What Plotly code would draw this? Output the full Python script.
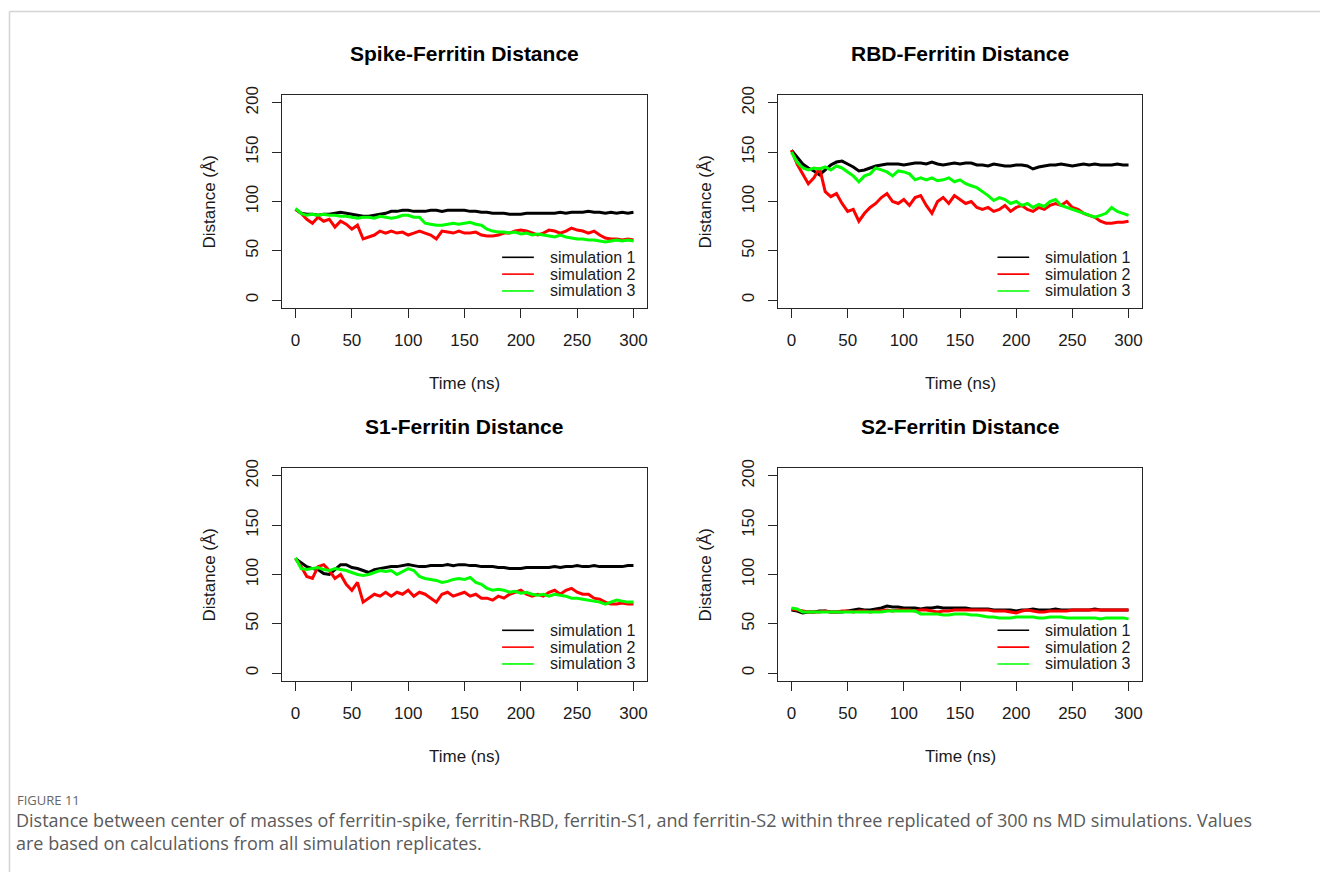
import plotly.graph_objects as go

# ---------------- data ----------------
TIME_NS = [0, 5, 10, 15, 20, 25, 30, 35, 40, 45,
           50, 55, 60, 65, 70, 75, 80, 85, 90, 95,
           100, 105, 110, 115, 120, 125, 130, 135, 140, 145,
           150, 155, 160, 165, 170, 175, 180, 185, 190, 195,
           200, 205, 210, 215, 220, 225, 230, 235, 240, 245,
           250, 255, 260, 265, 270, 275, 280, 285, 290, 295,
           300]

SPIKE_SIM1 = [92, 88, 87, 87, 86, 87, 87, 88, 89, 88,
              87, 86, 85, 85, 86, 87, 88, 90, 90, 91,
              91, 90, 90, 90, 91, 91, 90, 91, 91, 91,
              91, 90, 90, 89, 89, 88, 88, 88, 87, 87,
              87, 88, 88, 88, 88, 88, 88, 89, 88, 89,
              89, 89, 90, 89, 89, 88, 89, 88, 89, 88,
              89]
SPIKE_SIM2 = [92, 88, 82, 78, 84, 80, 82, 74, 80, 77,
              72, 76, 62, 64, 66, 70, 68, 70, 68, 69,
              66, 68, 70, 68, 66, 62, 70, 69, 68, 70,
              68, 68, 69, 66, 65, 65, 66, 68, 68, 70,
              71, 70, 68, 66, 68, 71, 70, 68, 70, 73,
              71, 70, 68, 70, 66, 63, 62, 62, 61, 62,
              61]
SPIKE_SIM3 = [93, 88, 86, 87, 86, 87, 86, 86, 85, 85,
              84, 83, 84, 84, 83, 85, 84, 83, 84, 86,
              86, 84, 84, 78, 77, 76, 76, 77, 78, 77,
              78, 79, 77, 76, 72, 70, 69, 69, 68, 69,
              67, 68, 66, 67, 66, 65, 64, 66, 64, 63,
              62, 62, 61, 61, 60, 59, 60, 61, 60, 61,
              60]

RBD_SIM1 = [152, 145, 138, 134, 131, 127, 132, 137, 140, 141,
            138, 135, 131, 132, 134, 136, 137, 138, 138, 138,
            137, 138, 139, 139, 138, 140, 138, 137, 138, 139,
            138, 139, 139, 137, 137, 136, 138, 137, 136, 136,
            137, 137, 136, 133, 135, 136, 137, 137, 138, 137,
            136, 137, 138, 137, 138, 137, 137, 137, 138, 137,
            137]
RBD_SIM2 = [152, 138, 128, 118, 124, 134, 110, 105, 108, 98,
            90, 92, 80, 88, 94, 98, 104, 108, 100, 98,
            102, 96, 104, 106, 96, 88, 100, 104, 98, 106,
            102, 98, 100, 94, 92, 94, 90, 92, 96, 90,
            94, 96, 92, 90, 94, 92, 96, 98, 96, 100,
            94, 92, 88, 86, 84, 80, 78, 78, 79, 79,
            80]
RBD_SIM3 = [150, 140, 134, 132, 134, 133, 135, 132, 136, 134,
            130, 126, 120, 126, 128, 134, 132, 130, 126, 131,
            130, 128, 122, 124, 122, 124, 121, 122, 124, 120,
            122, 118, 116, 114, 110, 106, 101, 104, 102, 98,
            100, 96, 98, 94, 97, 95, 100, 102, 96, 94,
            92, 90, 88, 86, 84, 86, 88, 94, 90, 88,
            86]

S1_SIM1 = [116, 112, 108, 106, 105, 101, 100, 105, 110, 110,
           107, 106, 104, 102, 105, 106, 107, 108, 108, 109,
           110, 109, 108, 108, 109, 109, 109, 110, 109, 110,
           110, 109, 109, 108, 108, 108, 107, 107, 106, 106,
           106, 107, 107, 107, 107, 107, 108, 107, 108, 108,
           109, 108, 108, 109, 108, 108, 108, 108, 108, 109,
           109]
S1_SIM2 = [116, 108, 98, 96, 108, 110, 104, 96, 100, 90,
           84, 92, 72, 76, 80, 78, 82, 78, 82, 80,
           84, 78, 82, 80, 76, 72, 80, 82, 78, 80,
           82, 78, 80, 76, 76, 74, 78, 76, 80, 82,
           84, 80, 78, 80, 78, 82, 84, 80, 84, 86,
           82, 80, 80, 76, 75, 72, 70, 70, 71, 70,
           70]
S1_SIM3 = [117, 106, 105, 106, 107, 105, 104, 106, 105, 104,
           102, 100, 99, 100, 102, 104, 103, 104, 100, 103,
           106, 104, 98, 96, 95, 94, 92, 93, 95, 96,
           95, 97, 92, 90, 86, 84, 85, 84, 82, 83,
           81, 82, 80, 79, 80, 78, 80, 79, 78, 76,
           76, 75, 74, 73, 72, 70, 72, 74, 73, 72,
           72]

S2_SIM1 = [64, 63, 61, 62, 62, 63, 63, 62, 62, 62,
           63, 64, 65, 64, 64, 65, 66, 68, 67, 67,
           66, 66, 66, 65, 66, 66, 67, 66, 66, 66,
           66, 66, 65, 65, 65, 65, 64, 64, 64, 64,
           63, 64, 64, 65, 64, 64, 64, 65, 64, 64,
           64, 64, 64, 64, 65, 64, 64, 64, 64, 64,
           64]
S2_SIM2 = [65, 64, 63, 62, 62, 62, 63, 62, 62, 63,
           63, 62, 63, 63, 62, 63, 63, 64, 63, 64,
           64, 64, 63, 64, 64, 63, 62, 63, 63, 64,
           64, 64, 64, 64, 64, 64, 63, 63, 63, 62,
           61, 63, 64, 63, 62, 62, 63, 63, 63, 63,
           64, 64, 64, 64, 64, 64, 64, 64, 64, 64,
           64]
S2_SIM3 = [66, 65, 62, 62, 62, 62, 62, 62, 62, 62,
           62, 62, 62, 62, 62, 62, 62, 63, 63, 63,
           63, 63, 63, 60, 60, 60, 60, 59, 59, 60,
           60, 60, 59, 59, 58, 57, 57, 56, 56, 56,
           57, 57, 57, 57, 56, 56, 57, 57, 57, 56,
           56, 56, 56, 56, 56, 55, 56, 56, 56, 56,
           55]

PANEL_TITLES = ["Spike-Ferritin Distance", "RBD-Ferritin Distance",
                "S1-Ferritin Distance", "S2-Ferritin Distance"]
SERIES_NAMES = ["simulation 1", "simulation 2", "simulation 3"]
X_TICKS = [0, 50, 100, 150, 200, 250, 300]
Y_TICKS = [0, 50, 100, 150, 200]
X_LABEL = "Time (ns)"
Y_LABEL = "Distance (Å)"
CAPTION_HEAD = "FIGURE 11"
CAPTION_LINE1 = ("Distance between center of masses of ferritin-spike, ferritin-RBD, ferritin-S1, "
                 "and ferritin-S2 within three replicated of 300 ns MD simulations. Values")
CAPTION_LINE2 = "are based on calculations from all simulation replicates."

PANEL_DATA = [
    [SPIKE_SIM1, SPIKE_SIM2, SPIKE_SIM3],
    [RBD_SIM1, RBD_SIM2, RBD_SIM3],
    [S1_SIM1, S1_SIM2, S1_SIM3],
    [S2_SIM1, S2_SIM2, S2_SIM3],
]
for grp in PANEL_DATA:
    for s in grp:
        assert len(s) == len(TIME_NS), len(s)

# ---------------- layout ----------------
W, H = 1320, 872
COLORS = ["#000000", "#FF0000", "#00FF00"]
FONT = "Liberation Sans, Arial, sans-serif"
CAP_FONT = "Open Sans, sans-serif"
AX_COL = "#262626"
# panel frames in pixels: left, right, top, bottom
PANELS = [(282, 647, 95, 308), (778, 1142, 95, 308),
          (282, 647, 468, 681), (778, 1142, 468, 681)]
TITLE_Y = [53, 53, 426, 426]
XLAB_Y = [383, 383, 756, 756]
LEG_ROWS = [0.238, 0.159, 0.080]


def px(x):
    return x / W


def py(y):
    return 1 - y / H


fig = go.Figure()
annotations = []
shapes = []

for i, (series, (l, r, t, b)) in enumerate(zip(PANEL_DATA, PANELS)):
    sfx = "" if i == 0 else str(i + 1)
    for name, vals, col in zip(SERIES_NAMES, series, COLORS):
        fig.add_trace(go.Scatter(x=TIME_NS, y=vals, mode="lines", name=name,
                                 line=dict(color=col, width=3),
                                 xaxis="x" + sfx, yaxis="y" + sfx,
                                 showlegend=False, hoverinfo="skip"))
    fig.layout["xaxis" + sfx] = dict(
        domain=[px(l), px(r)], anchor="y" + sfx, range=[-12, 312], automargin=False,
        tickmode="array", tickvals=X_TICKS, ticks="outside", ticklen=9,
        tickwidth=1, tickcolor=AX_COL, showline=True, mirror=True,
        linecolor=AX_COL, linewidth=1.2, showgrid=False, zeroline=False,
        tickfont=dict(family=FONT, size=17, color="#1a1a1a"),
        ticklabelstandoff=7, fixedrange=True)
    fig.layout["yaxis" + sfx] = dict(
        domain=[py(b), py(t)], anchor="x" + sfx, range=[-8, 208], automargin=False,
        tickmode="array", tickvals=Y_TICKS, ticks="outside", ticklen=9,
        tickwidth=1, tickcolor=AX_COL, showline=True, mirror=True,
        linecolor=AX_COL, linewidth=1.2, showgrid=False, zeroline=False,
        tickangle=-90,
        tickfont=dict(family=FONT, size=17, color="#1a1a1a"),
        ticklabelstandoff=7, fixedrange=True)

    cx = (l + r) / 2
    annotations.append(dict(text="<b>" + PANEL_TITLES[i] + "</b>", x=px(cx), y=py(TITLE_Y[i]),
                            xref="paper", yref="paper", showarrow=False,
                            xanchor="center", yanchor="middle",
                            font=dict(family=FONT, size=21, color="#000000")))
    annotations.append(dict(text=X_LABEL, x=px(cx), y=py(XLAB_Y[i]),
                            xref="paper", yref="paper", showarrow=False,
                            xanchor="center", yanchor="middle",
                            font=dict(family=FONT, size=17, color="#1a1a1a")))
    annotations.append(dict(text=Y_LABEL, x=px(l - 73), y=py((t + b) / 2),
                            xref="paper", yref="paper", showarrow=False,
                            textangle=-90, xanchor="center", yanchor="middle",
                            font=dict(family=FONT, size=17, color="#1a1a1a")))
    # legend (R style, no box)
    for name, col, ry in zip(SERIES_NAMES, COLORS, LEG_ROWS):
        shapes.append(dict(type="line", xref="x" + sfx + " domain", yref="y" + sfx + " domain",
                           x0=0.603, x1=0.690, y0=ry, y1=ry,
                           line=dict(color=col, width=1.6)))
        annotations.append(dict(text=name, xref="x" + sfx + " domain", yref="y" + sfx + " domain",
                                x=0.729, y=ry, xanchor="left", yanchor="middle", showarrow=False,
                                font=dict(family=FONT, size=16, color="#1a1a1a")))

# caption
annotations.append(dict(text=CAPTION_HEAD, x=px(15), y=py(800), xref="paper", yref="paper",
                        showarrow=False, xanchor="left", yanchor="middle",
                        font=dict(family=CAP_FONT, size=13, color="#666666")))
annotations.append(dict(text=CAPTION_LINE1, x=px(14), y=py(820), xref="paper", yref="paper",
                        showarrow=False, xanchor="left", yanchor="middle",
                        font=dict(family=CAP_FONT, size=18, color="#5a5a5a")))
annotations.append(dict(text=CAPTION_LINE2, x=px(14), y=py(843), xref="paper", yref="paper",
                        showarrow=False, xanchor="left", yanchor="middle",
                        font=dict(family=CAP_FONT, size=18, color="#5a5a5a")))

# page frame lines
shapes.append(dict(type="line", xref="paper", yref="paper", x0=px(9.5), x1=1.0,
                   y0=py(11.5), y1=py(11.5), line=dict(color="#d4d4d4", width=1.5)))
shapes.append(dict(type="line", xref="paper", yref="paper", x0=px(9.5), x1=px(9.5),
                   y0=py(11.5), y1=0, line=dict(color="#d4d4d4", width=1.5)))

fig.update_layout(width=W, height=H, margin=dict(l=0, r=0, t=0, b=0, autoexpand=False),
                  paper_bgcolor="white", plot_bgcolor="white",
                  annotations=annotations, shapes=shapes, showlegend=False)

fig.write_html("out.html", config={"displayModeBar": False})
